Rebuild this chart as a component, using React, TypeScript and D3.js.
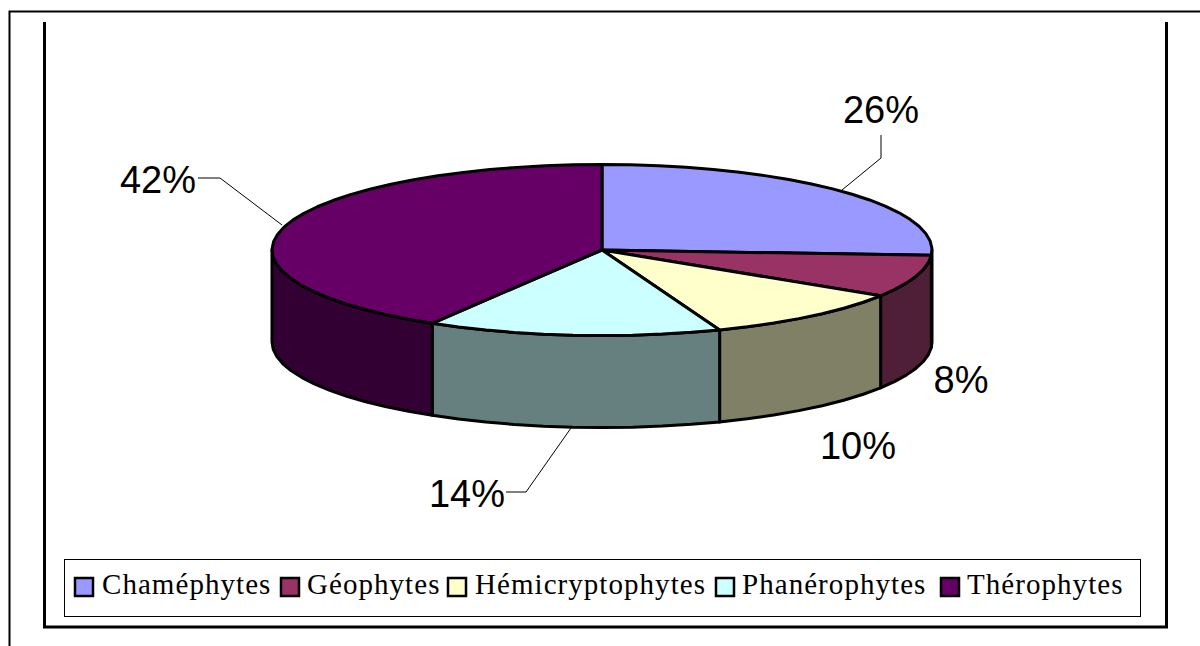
import React from "react";
import * as d3 from "d3";

const categories = ["Chaméphytes", "Géophytes", "Hémicryptophytes", "Phanérophytes", "Thérophytes"];
const values = [26, 8, 10.2, 14.4, 41.4];
const topColors = ["#9999FF", "#993366", "#FFFFCC", "#CCFFFF", "#660066"];
const sideColors = ["#4D4D80", "#4F1F38", "#808066", "#668080", "#330033"];
const labelText = ["26%", "8%", "10%", "14%", "42%"];
const labelPos: [number, number][] = [[881, 123], [961, 393], [858, 459], [467, 507], [158, 193]];
const leaders: [number, number][][] = [
  [[881, 135], [881, 158], [842, 190]],
  [],
  [],
  [[506, 492], [526, 492], [571, 428]],
  [[198, 178], [220, 178], [282, 225]],
];
const legendX = [75, 281, 448, 716, 941];
const legendTextX = [102, 307, 475, 742, 967];

const cx = 602, cy = 250, rx = 330, ry = 85.5, depth = 92;
const STEP = Math.PI / 36;

const pt = (a: number, dy = 0): [number, number] => [cx + rx * Math.sin(a), cy - ry * Math.cos(a) + dy];
const samples = (a0: number, a1: number) => {
  const n = Math.max(1, Math.round((a1 - a0) / STEP));
  return d3.range(n + 1).map((i) => a0 + ((a1 - a0) * i) / n);
};
const line = d3.line<[number, number]>().curve(d3.curveLinear);

export default function App() {
  const arcs = d3.pie<number>().sort(null)(values);
  return (
    <svg width={1200} height={646} style={{ position: "absolute", left: 0, top: 0, background: "#fff" }}>
      <path d="M1200 11.5H9.5V646" fill="none" stroke="#000" strokeWidth={2} />
      <path d="M44.5 22V627H1166.5V22" fill="none" stroke="#000" strokeWidth={3} />
      {arcs.map((d, i) => {
        const a0 = Math.max(d.startAngle, Math.PI / 2);
        const a1 = Math.min(d.endAngle, (3 * Math.PI) / 2);
        if (a1 <= a0) return null;
        const top = samples(a0, a1).map((a) => pt(a));
        const bottom = samples(a0, a1).reverse().map((a) => pt(a, depth));
        return (
          <path key={i} d={line([...top, ...bottom])! + "Z"} fill={sideColors[i]} stroke="#000" strokeWidth={3} strokeLinejoin="round" />
        );
      })}
      {arcs.map((d, i) => (
        <path
          key={i}
          d={line([[cx, cy], ...samples(d.startAngle, d.endAngle).map((a) => pt(a))])! + "Z"}
          fill={topColors[i]}
          stroke="#000"
          strokeWidth={3}
          strokeLinejoin="round"
        />
      ))}
      {leaders.map((l, i) => l.length > 0 && <path key={i} d={line(l)!} fill="none" stroke="#000" strokeWidth={1} />)}
      {labelText.map((t, i) => (
        <text key={i} x={labelPos[i][0]} y={labelPos[i][1]} textAnchor="middle" fontFamily="Liberation Sans" fontSize={38} fill="#000">
          {t}
        </text>
      ))}
      <rect x={64.5} y={559.5} width={1076} height={57} fill="#fff" stroke="#000" strokeWidth={1} />
      {categories.map((c, i) => (
        <g key={c}>
          <rect x={legendX[i]} y={578} width={18} height={18} fill={topColors[i]} stroke="#000" strokeWidth={2.5} />
          <text x={legendTextX[i]} y={594} fontFamily="Liberation Serif" fontSize={29} letterSpacing={1.05} fill="#000">
            {c}
          </text>
        </g>
      ))}
    </svg>
  );
}
